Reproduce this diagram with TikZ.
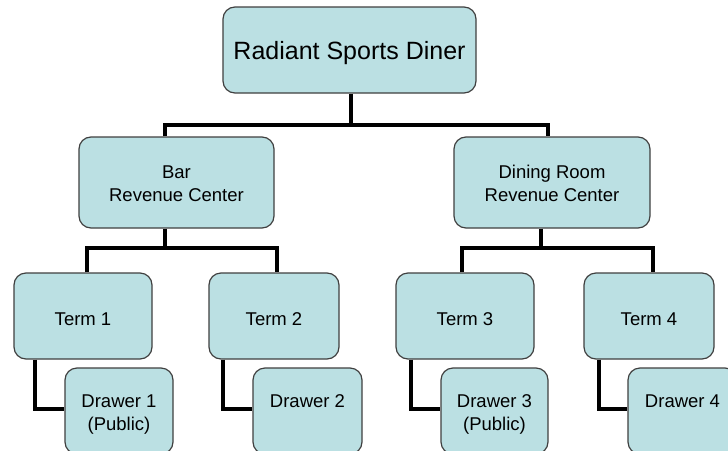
\documentclass[tikz,border=0pt]{standalone}
\usepackage{fontspec}
\setmainfont{Liberation Sans}
\definecolor{boxfill}{RGB}{187,224,227}
\definecolor{boxline}{RGB}{64,64,64}
\newcommand{\lowertext}[2]{\raisebox{-#1}[\height][\depth]{#2}}
\newcommand{\twoline}[2]{\lowertext{3pt}{\begin{tabular}{@{}c@{}}#1\\#2\end{tabular}}}
\begin{document}
\begin{tikzpicture}[x=1pt,y=-1pt,
  orgbox/.style={draw=boxline, line width=1.2pt, fill=boxfill, rounded corners=12pt,
    inner sep=0pt, align=center, font=\fontsize{18.5}{23}\selectfont},
  conn/.style={draw=black, line width=3.2pt, line cap=butt, line join=miter}]
\useasboundingbox (0,0) rectangle (728,450);
\clip (0,0) rectangle (728,450);
\fill[white] (0,0) rectangle (728,450);
% boxes
\node[orgbox, minimum width=253pt, minimum height=86pt, font=\fontsize{25}{30}\selectfont] (top) at (349.5,50) {\lowertext{3pt}{Radiant Sports Diner}};
\node[orgbox, minimum width=195pt, minimum height=91pt] (bar) at (176.5,182.5) {\twoline{Bar}{Revenue Center}};
\node[orgbox, minimum width=196pt, minimum height=91pt] (din) at (552,182.5) {\twoline{Dining Room}{Revenue Center}};
\node[orgbox, minimum width=138pt, minimum height=86pt] (t1) at (83,316) {\lowertext{3pt}{Term 1}};
\node[orgbox, minimum width=130pt, minimum height=86pt] (t2) at (274,316) {\lowertext{3pt}{Term 2}};
\node[orgbox, minimum width=138pt, minimum height=86pt] (t3) at (465,316) {\lowertext{3pt}{Term 3}};
\node[orgbox, minimum width=130pt, minimum height=86pt] (t4) at (649,316) {\lowertext{3pt}{Term 4}};
\node[orgbox, minimum width=108pt, minimum height=86pt] (d1) at (119,411) {\twoline{Drawer 1}{(Public)}};
\node[orgbox, minimum width=109pt, minimum height=86pt] (d2) at (307.5,411) {\twoline{Drawer 2}{\phantom{(Public)}}};
\node[orgbox, minimum width=107pt, minimum height=86pt] (d3) at (494.5,411) {\twoline{Drawer 3}{(Public)}};
\node[orgbox, minimum width=109pt, minimum height=86pt] (d4) at (682.5,411) {\twoline{Drawer 4}{\phantom{(Public)}}};
% bus coordinates
\coordinate (b0) at (351,125);
\coordinate (b0L) at (165,125);
\coordinate (b0R) at (548,125);
\coordinate (b1) at (165,248);
\coordinate (b1L) at (87,248);
\coordinate (b1R) at (277,248);
\coordinate (b2) at (541,248);
\coordinate (b2L) at (462,248);
\coordinate (b2R) at (653,248);
\coordinate (k1) at (35,409);
\coordinate (k2) at (223,409);
\coordinate (k3) at (411,409);
\coordinate (k4) at (599,409);
% connectors
\draw[conn] (top.south -| b0) -- (b0);
\draw[conn] (bar.north -| b0L) -- (b0L) -- (b0R) -- (din.north -| b0R);
\draw[conn] (bar.south -| b1) -- (b1);
\draw[conn] (t1.north -| b1L) -- (b1L) -- (b1R) -- (t2.north -| b1R);
\draw[conn] (din.south -| b2) -- (b2);
\draw[conn] (t3.north -| b2L) -- (b2L) -- (b2R) -- (t4.north -| b2R);
\draw[conn] (t1.south -| k1) -- (k1) -- (k1 -| d1.west);
\draw[conn] (t2.south -| k2) -- (k2) -- (k2 -| d2.west);
\draw[conn] (t3.south -| k3) -- (k3) -- (k3 -| d3.west);
\draw[conn] (t4.south -| k4) -- (k4) -- (k4 -| d4.west);
\end{tikzpicture}
\end{document}
